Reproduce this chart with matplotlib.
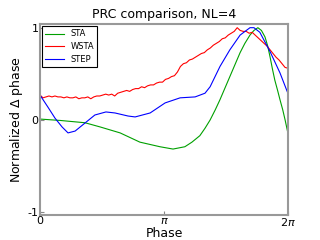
import numpy as np
import matplotlib
matplotlib.use("Agg")
import matplotlib.pyplot as plt

# STA (smooth)
sta_phase = [0.0, 0.51, 1.14, 1.52, 2.03, 2.53, 3.04, 3.37, 3.67, 3.85, 4.05, 4.18, 4.31,
             4.44, 4.56, 4.69, 4.81, 4.94, 5.07, 5.19, 5.32, 5.42, 5.52, 5.61, 5.70,
             5.77, 5.83, 5.89, 5.95, 6.02, 6.08, 6.15, 6.21, 6.28]
sta_val = [0.01, -0.005, -0.03, -0.075, -0.14, -0.24, -0.29, -0.315, -0.29, -0.24, -0.17,
           -0.09, 0.0, 0.11, 0.22, 0.35, 0.47, 0.60, 0.73, 0.83, 0.92, 0.97, 1.0, 0.97,
           0.90, 0.80, 0.68, 0.55, 0.43, 0.32, 0.22, 0.11, 0.0, -0.14]

# STEP (smooth)
step_phase = [0.0, 0.20, 0.38, 0.56, 0.71, 0.89, 1.14, 1.39, 1.67, 1.90, 2.23, 2.41,
              2.79, 3.17, 3.55, 3.93, 4.18, 4.31, 4.56, 4.81, 5.07, 5.32, 5.42, 5.57,
              5.83, 6.08, 6.28]
step_val = [0.27, 0.14, 0.02, -0.076, -0.14, -0.12, -0.033, 0.054, 0.087, 0.076, 0.043,
            0.033, 0.076, 0.185, 0.24, 0.25, 0.29, 0.36, 0.58, 0.76, 0.92, 1.0, 1.0,
            0.95, 0.74, 0.51, 0.29]

# WSTA (noisy, evenly sampled)
wsta_val = [0.27, 0.24, 0.25, 0.26, 0.25, 0.26, 0.25, 0.25, 0.24, 0.25, 0.24, 0.24,
            0.25, 0.23, 0.24, 0.24, 0.25, 0.23, 0.25, 0.26, 0.26, 0.27, 0.28, 0.27,
            0.28, 0.26, 0.29, 0.30, 0.31, 0.32, 0.31, 0.33, 0.34, 0.34, 0.36, 0.35,
            0.37, 0.38, 0.38, 0.40, 0.41, 0.41, 0.44, 0.45, 0.47, 0.48, 0.52, 0.58,
            0.61, 0.62, 0.65, 0.66, 0.68, 0.70, 0.72, 0.73, 0.76, 0.78, 0.81, 0.83,
            0.85, 0.88, 0.89, 0.92, 0.94, 0.96, 1.00, 0.97, 0.96, 0.96, 0.94, 0.95,
            0.92, 0.89, 0.86, 0.83, 0.80, 0.76, 0.72, 0.68, 0.65, 0.61, 0.57, 0.56]
wsta_phase = np.linspace(0, 2 * np.pi, len(wsta_val))

fig = plt.figure(figsize=(3.2, 2.4), dpi=100)
ax = fig.add_axes([0.125, 0.104, 0.775, 0.796])

ax.plot(sta_phase, sta_val, color="#00a000", lw=0.8, label="STA")
ax.plot(wsta_phase, wsta_val, color="#ff0000", lw=0.8, label="WSTA")
ax.plot(step_phase, step_val, color="#0000ff", lw=0.8, label="STEP")

ax.set_xlim(0, 2 * np.pi)
ax.set_ylim(-1.03, 1.04)
ax.set_xticks([0, np.pi, 2 * np.pi])
ax.set_xticklabels(["0", r"$\pi$", r"$2\pi$"])
ax.set_yticks([-1, 0, 1])
ax.set_yticklabels(["-1", "0", "1"])
ax.tick_params(direction="in", length=3, color="#888888", labelsize=8, pad=1)
for s in ax.spines.values():
    s.set_color("#999999")
    s.set_linewidth(1.5)

ax.set_title("PRC comparison, NL=4", fontsize=9, pad=4)
ax.set_xlabel("Phase", fontsize=9, labelpad=-1)
ax.set_ylabel("Normalized $\\Delta$ phase", fontsize=9, labelpad=2)

leg = ax.legend(loc="upper left", fontsize=6, fancybox=False, handlelength=2.2,
                borderaxespad=0.25, framealpha=1, labelspacing=0.45)
leg.get_frame().set_edgecolor("black")
leg.get_frame().set_linewidth(0.8)

fig.savefig("out.png", dpi=100)
